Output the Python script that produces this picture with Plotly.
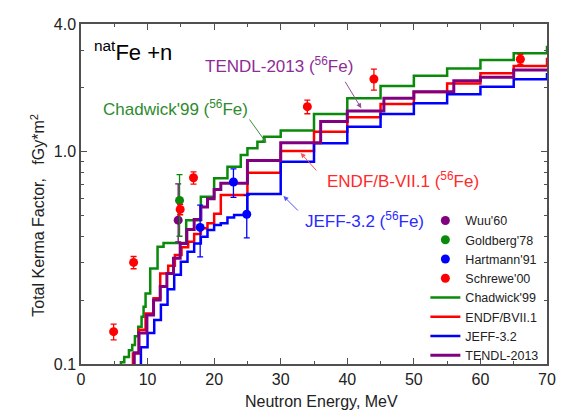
import math
import plotly.graph_objects as go

# ---------------- data ----------------
# evaluated kerma factors (step histograms): bin edges [MeV] and value at each left edge
chadwick_E = [5.8, 6.0, 6.5, 7.2, 7.7, 8.1, 8.6, 9.1, 9.4, 9.7, 10.4, 11.5, 12.4, 15.8, 18, 20, 22, 24, 25,
              26.5, 27.5, 30, 35, 40, 45, 50, 55, 60, 65, 70]
chadwick_K = [0.095, 0.102, 0.108, 0.116, 0.123, 0.135, 0.150, 0.167, 0.186, 0.215, 0.282, 0.357, 0.372,
              0.476, 0.614, 0.75, 0.851, 0.966, 1.039, 1.116, 1.178, 1.258, 1.507, 1.787, 2.04, 2.28, 2.47,
              2.71, 2.91, 3.16]

endf_E = [7.5, 7.8, 8.7, 9.7, 10.9, 11.9, 13.1, 14.1, 15.1, 16.1, 17, 18, 19, 20, 21, 25, 30, 35, 40, 45,
          50, 55, 60, 65, 70]
endf_K = [0.095, 0.112, 0.145, 0.173, 0.204, 0.267, 0.29, 0.326, 0.355, 0.377, 0.41, 0.436, 0.46, 0.51,
          0.625, 0.797, 1.009, 1.244, 1.454, 1.68, 1.913, 2.10, 2.344, 2.537, 2.77]

jeff_E = [8.8, 9.0, 10.0, 11.0, 12.0, 13.0, 14.0, 15.0, 16.0, 17.0, 18.0, 19.0, 20.0, 21.0, 22.0, 23.0,
          25.0, 30, 35, 40, 45, 50, 55, 60, 65, 70]
jeff_K = [0.095, 0.12, 0.14, 0.161, 0.19, 0.225, 0.263, 0.303, 0.338, 0.37, 0.398, 0.428, 0.452, 0.46,
          0.49, 0.503, 0.632, 0.898, 1.096, 1.313, 1.507, 1.693, 1.866, 2.027, 2.196, 2.35]

tendl_E = [7.7, 8.0, 8.7, 9.9, 10.9, 11.9, 12.9, 13.9, 14.9, 15.9, 17.0, 18.0, 19.0, 20.0, 21.0, 25.0,
           30.0, 36.0, 40.0, 45.5, 50.0, 56.0, 60.0, 65.0, 70.0]
tendl_K = [0.095, 0.113, 0.14, 0.17, 0.2, 0.232, 0.267, 0.315, 0.37, 0.43, 0.48, 0.55, 0.60, 0.665, 0.71,
           0.91, 1.104, 1.387, 1.557, 1.787, 1.92, 2.163, 2.244, 2.43, 2.43]

# measurements
wuu_E, wuu_K, wuu_up, wuu_dn = [14.6], [0.476], [0.23], [0.10]
gold_E, gold_K, gold_err = [14.8], [0.59], [0.19]
hart_E, hart_K, hart_err = [17.9, 22.9, 24.9], [0.44, 0.72, 0.508], [0.12, 0.11, 0.115]
schr_E = [4.9, 7.9, 14.9, 16.9, 34.0, 44.0, 66.0]
schr_K = [0.142, 0.301, 0.535, 0.754, 1.631, 2.203, 2.73]
schr_err = [0.012, 0.02, 0.03, 0.05, 0.12, 0.25, 0.15]

x_ticks = [0, 10, 20, 30, 40, 50, 60, 70]
y_ticks = [0.1, 1.0, 4.0]
y_ticktext = ["0.1", "1.0", "4.0"]
y_minor = [0.2, 0.3, 0.4, 0.5, 0.6, 0.7, 0.8, 0.9, 2, 3]

GREEN = "#0a8a0a"
RED = "#ff0000"
BLUE = "#0000ff"
PURPLE = "#800080"
FONT = "Arial, Liberation Sans, sans-serif"

fig = go.Figure()

def step(E, K, name, color, width, rank):
    fig.add_trace(go.Scatter(x=E, y=K, mode="lines", line=dict(color=color, width=width, shape="hv"),
                             name=name, legendrank=rank))

step(chadwick_E, chadwick_K, "Chadwick'99", GREEN, 2.5, 5)
step(endf_E, endf_K, "ENDF/BVII.1", RED, 2.5, 6)
step(jeff_E, jeff_K, "JEFF-3.2", BLUE, 2.5, 7)
step(tendl_E, tendl_K, "TENDL-2013", PURPLE, 3, 8)

def pts(E, K, up, dn, name, color, rank):
    fig.add_trace(go.Scatter(x=E, y=K, mode="markers", name=name, legendrank=rank,
                             marker=dict(color=color, size=9),
                             error_y=dict(type="data", array=up, arrayminus=dn, color=color,
                                          thickness=1.3, width=3)))

pts(wuu_E, wuu_K, wuu_up, wuu_dn, "Wuu'60", PURPLE, 1)
pts(gold_E, gold_K, gold_err, gold_err, "Goldberg'78", GREEN, 2)
pts(hart_E, hart_K, hart_err, hart_err, "Hartmann'91", BLUE, 3)
pts(schr_E, schr_K, schr_err, schr_err, "Schrewe'00", RED, 4)

axis_common = dict(showline=True, linecolor="#505050", linewidth=1.5, mirror="ticks",
                   ticks="inside", ticklen=6, tickcolor="#505050", tickwidth=1,
                   showgrid=False, zeroline=False,
                   tickfont=dict(family=FONT, size=16, color="#222222"))

fig.update_xaxes(range=[0, 70], tickvals=x_ticks,
                 minor=dict(dtick=5, tick0=0, ticks="inside", ticklen=3, tickcolor="#505050"),
                 **axis_common)
fig.update_yaxes(type="log", range=[-1, math.log10(4.0)], tickvals=y_ticks, ticktext=y_ticktext,
                 minor=dict(tickmode="array", tickvals=y_minor, ticks="inside", ticklen=3,
                            tickcolor="#505050"),
                 **axis_common)

L = math.log10  # annotations on a log axis take log10 positions

def label(text, x, y, color, size=17):
    return dict(text=text, x=x, y=L(y), xanchor="left", yanchor="middle", showarrow=False,
                font=dict(family=FONT, size=size, color=color))

def arrow(x, y, ax, ay, color):
    return dict(text="", x=x, y=L(y), ax=ax, ay=ay, showarrow=True, arrowhead=2, arrowsize=1,
                arrowwidth=1, arrowcolor=color)

ann = [
    label("<sup>nat</sup>Fe +n", 1.7, 2.99, "black", 22),
    label("TENDL-2013 (<sup>56</sup>Fe)", 18.3, 2.56, "#8e2c96"),
    label("Chadwick'99 (<sup>56</sup>Fe)", 3.0, 1.61, "#2e8b2e"),
    label("ENDF/B-VII.1 (<sup>56</sup>Fe)", 36.7, 0.736, "#ff2a2a"),
    label("JEFF-3.2 (<sup>56</sup>Fe)", 33.4, 0.477, "#2a2aff"),
    arrow(42.1, 1.603, -17, -28, "#8e5096"),
    arrow(27.85, 1.10, -18, -25, "#3a8a3a"),
    arrow(33.0, 0.987, 17, 19, "#ff5050"),
    arrow(30.4, 0.619, 16, 16, "#5050ff"),
    dict(text="Neutron Energy, MeV", xref="paper", yref="paper", x=0.517, y=-0.109,
         xanchor="center", yanchor="middle", showarrow=False,
         font=dict(family=FONT, size=16, color="#222222")),
    dict(text="Total Kerma Factor,   fGy*m<sup>2</sup>", xref="paper", yref="paper",
         x=-0.093, y=0.438, xanchor="center", yanchor="middle", textangle=-90, showarrow=False,
         font=dict(family=FONT, size=16, color="#222222")),
]

fig.update_layout(
    width=568, height=412,
    margin=dict(l=81, r=12, t=24, b=48),
    paper_bgcolor="white", plot_bgcolor="white",
    annotations=ann,
    showlegend=True,
    legend=dict(x=0.739, y=0.465, xanchor="left", yanchor="top", bgcolor="rgba(0,0,0,0)",
                font=dict(family=FONT, size=12.5, color="#222222"), tracegroupgap=0,
                itemwidth=30),
)

fig.write_html("out.html")
